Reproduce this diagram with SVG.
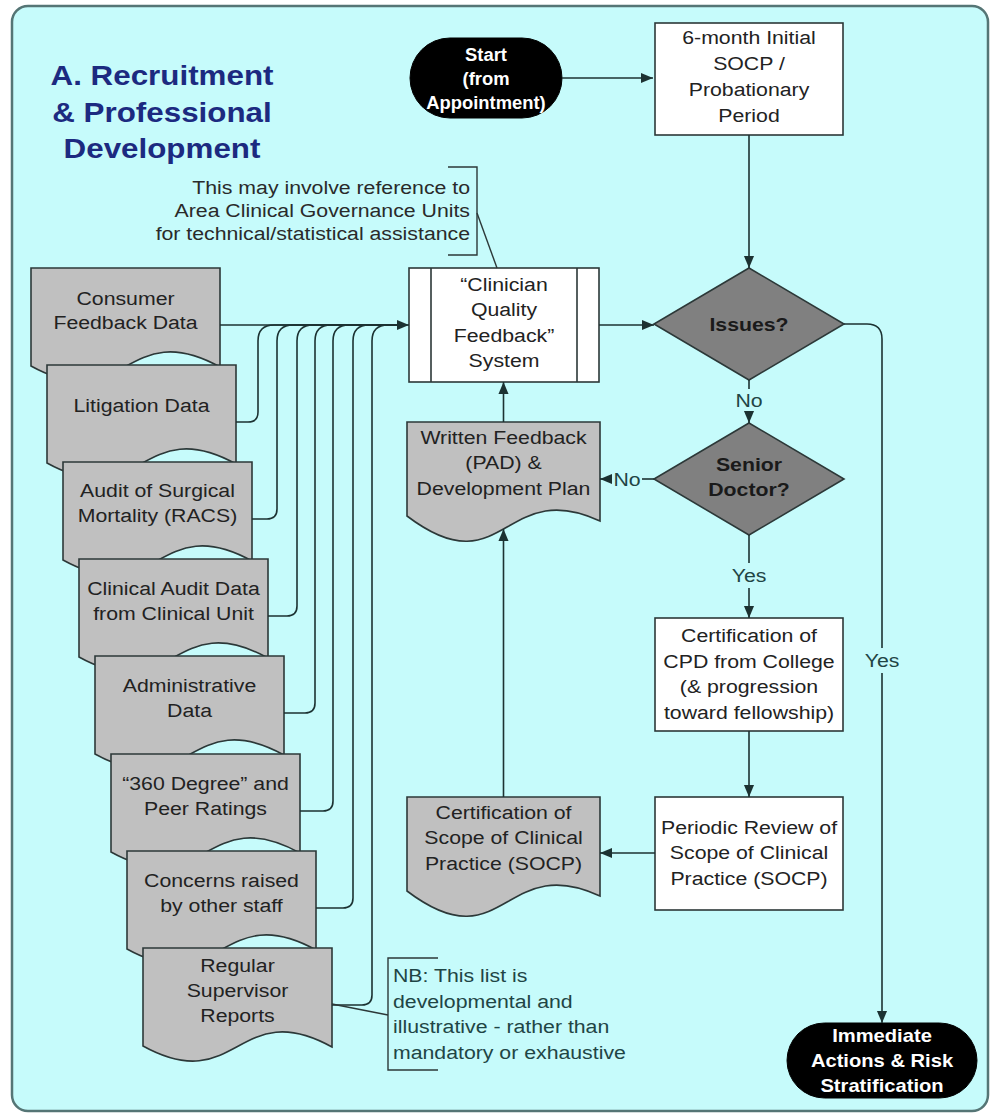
<svg xmlns="http://www.w3.org/2000/svg" width="992" height="1117" viewBox="0 0 992 1117">
<defs>
<style>
.t{font-family:"Liberation Sans",Arial,sans-serif;font-size:19px;fill:#222;text-anchor:middle}
.b{font-weight:bold;fill:#1a1a1a}
.w{font-family:"Liberation Sans",Arial,sans-serif;font-size:18px;font-weight:bold;fill:#fff;text-anchor:middle}
.title{font-family:"Liberation Sans",Arial,sans-serif;font-size:28px;font-weight:bold;fill:#1c2a80;text-anchor:middle}
.lbl{font-family:"Liberation Sans",Arial,sans-serif;font-size:19px;fill:#1f4545;text-anchor:middle}
.ann{font-family:"Liberation Sans",Arial,sans-serif;font-size:19px;fill:#2a2a2a}
.doc{fill:#c0c0c0;stroke:#2c3838;stroke-width:1.6}
.box{fill:#fff;stroke:#2c3838;stroke-width:1.6}
.dia{fill:#808080;stroke:#2c3838;stroke-width:1.6}
.pill{fill:#000;stroke:#000}
.c{fill:none;stroke:#1c3232;stroke-width:1.6}
.ca{fill:none;stroke:#1c3232;stroke-width:1.6;marker-end:url(#ah)}
.br{fill:none;stroke:#2c3838;stroke-width:1.4}
</style>
<marker id="ah" viewBox="0 0 10 10" refX="10" refY="5" markerWidth="12" markerHeight="12" markerUnits="userSpaceOnUse" orient="auto">
<path d="M0,0.8 L10,5 L0,9.2 Z" fill="#1c3232"/>
</marker>
</defs>
<rect x="0" y="0" width="992" height="1117" fill="#fff"/>
<rect id="panel" x="12" y="6" width="976" height="1105" rx="16" fill="#c6fbfb" stroke="#557575" stroke-width="2.5"/>

<g id="title">
<text class="title" transform="translate(162,85) scale(1.12,1)"><tspan x="0" y="0">A. Recruitment</tspan><tspan x="0" y="37">&amp; Professional</tspan><tspan x="0" y="73">Development</tspan></text>
</g>

<g id="note-acgu">
<path class="br" d="M448,167 H477 V255 H448"/>
<text class="ann" text-anchor="end" transform="translate(470,194) scale(1.12,1)"><tspan x="0" y="0">This may involve reference to</tspan><tspan x="0" y="23">Area Clinical Governance Units</tspan><tspan x="0" y="46">for technical/statistical assistance</tspan></text>
</g>

<g id="start">
<rect class="pill" x="410" y="38" width="152" height="80" rx="40"/>
<text class="w" style="font-size:17.5px" transform="translate(486,61) scale(1.05,1)"><tspan x="0" y="0">Start</tspan><tspan x="0" y="24">(from</tspan><tspan x="0" y="48">Appointment)</tspan></text>
</g>

<g id="probation">
<rect class="box" x="655" y="23" width="188" height="112"/>
<text class="t" transform="translate(749,44) scale(1.12,1)"><tspan x="0" y="0">6-month Initial</tspan><tspan x="0" y="26">SOCP /</tspan><tspan x="0" y="52">Probationary</tspan><tspan x="0" y="78">Period</tspan></text>
</g>

<g id="cqf">
<rect class="box" x="409" y="268" width="190" height="114"/>
<path class="br" d="M431,268 V382 M577,268 V382" style="stroke-width:1.6"/>
<text class="t" transform="translate(504,291) scale(1.12,1)"><tspan x="0" y="0">“Clinician</tspan><tspan x="0" y="25.5">Quality</tspan><tspan x="0" y="51">Feedback”</tspan><tspan x="0" y="76.5">System</tspan></text>
</g>

<g id="issues">
<path class="dia" d="M749,268 L844,324 L749,380 L654,324 Z"/>
<text class="t b" transform="translate(749,331) scale(1.12,1)">Issues?</text>
</g>

<g id="senior">
<path class="dia" d="M749,423 L844,479 L749,535 L654,479 Z"/>
<text class="t b" transform="translate(749,471) scale(1.12,1)"><tspan x="0" y="0">Senior</tspan><tspan x="0" y="25">Doctor?</tspan></text>
</g>

<g id="written">
<path class="doc" d="M407,422 H600 V521 C503.5,476 503.5,589 407,516 Z"/>
<text class="t" transform="translate(503.5,444) scale(1.12,1)"><tspan x="0" y="0">Written Feedback</tspan><tspan x="0" y="25.5">(PAD) &amp;</tspan><tspan x="0" y="51">Development Plan</tspan></text>
</g>

<g id="cpd">
<rect class="box" x="655" y="618" width="188" height="113"/>
<text class="t" transform="translate(749,642) scale(1.12,1)"><tspan x="0" y="0">Certification of</tspan><tspan x="0" y="25.7">CPD from College</tspan><tspan x="0" y="51.4">(&amp; progression</tspan><tspan x="0" y="77">toward fellowship)</tspan></text>
</g>

<g id="periodic">
<rect class="box" x="655" y="797" width="188" height="113"/>
<text class="t" transform="translate(749,834) scale(1.12,1)"><tspan x="0" y="0">Periodic Review of</tspan><tspan x="0" y="25.5">Scope of Clinical</tspan><tspan x="0" y="51">Practice (SOCP)</tspan></text>
</g>

<g id="cert-socp">
<path class="doc" d="M407,797 H600 V896 C503.5,851 503.5,964 407,891 Z"/>
<text class="t" transform="translate(503.5,819) scale(1.12,1)"><tspan x="0" y="0">Certification of</tspan><tspan x="0" y="25.5">Scope of Clinical</tspan><tspan x="0" y="51">Practice (SOCP)</tspan></text>
</g>

<g id="immediate">
<rect class="pill" x="787" y="1023" width="190" height="75" rx="37.5"/>
<text class="w" transform="translate(882,1042) scale(1.12,1)"><tspan x="0" y="0">Immediate</tspan><tspan x="0" y="25">Actions &amp; Risk</tspan><tspan x="0" y="50">Stratification</tspan></text>
</g>

<g id="doc-consumer">
<path class="doc" d="M31,268 H220 V367 C125.5,315 125.5,418 31,366 Z"/>
<text class="t" transform="translate(125.5,304.5) scale(1.12,1)"><tspan x="0" y="0">Consumer</tspan><tspan x="0" y="25">Feedback Data</tspan></text>
</g>
<g id="doc-litigation">
<path class="doc" d="M47,365 H236 V464 C141.5,412 141.5,515 47,463 Z"/>
<text class="t" transform="translate(141.5,412) scale(1.12,1)">Litigation Data</text>
</g>
<g id="doc-racs">
<path class="doc" d="M63,462 H252 V561 C157.5,509 157.5,612 63,560 Z"/>
<text class="t" transform="translate(157.5,497) scale(1.12,1)"><tspan x="0" y="0">Audit of Surgical</tspan><tspan x="0" y="25">Mortality (RACS)</tspan></text>
</g>
<g id="doc-clinical-audit">
<path class="doc" d="M79,559 H268 V658 C173.5,606 173.5,709 79,657 Z"/>
<text class="t" transform="translate(173.5,595) scale(1.12,1)"><tspan x="0" y="0">Clinical Audit Data</tspan><tspan x="0" y="25">from Clinical Unit</tspan></text>
</g>
<g id="doc-admin">
<path class="doc" d="M95,656 H284 V755 C189.5,703 189.5,806 95,754 Z"/>
<text class="t" transform="translate(189.5,692) scale(1.12,1)"><tspan x="0" y="0">Administrative</tspan><tspan x="0" y="25">Data</tspan></text>
</g>
<g id="doc-360">
<path class="doc" d="M111,754 H300 V853 C205.5,801 205.5,904 111,852 Z"/>
<text class="t" transform="translate(205.5,790) scale(1.12,1)"><tspan x="0" y="0">“360 Degree” and</tspan><tspan x="0" y="25">Peer Ratings</tspan></text>
</g>
<g id="doc-concerns">
<path class="doc" d="M127,851 H316 V950 C221.5,898 221.5,1001 127,949 Z"/>
<text class="t" transform="translate(221.5,887) scale(1.12,1)"><tspan x="0" y="0">Concerns raised</tspan><tspan x="0" y="25">by other staff</tspan></text>
</g>
<g id="doc-supervisor">
<path class="doc" d="M143,948 H332 V1047 C237.5,995 237.5,1098 143,1046 Z"/>
<text class="t" transform="translate(237.5,972) scale(1.12,1)"><tspan x="0" y="0">Regular</tspan><tspan x="0" y="25">Supervisor</tspan><tspan x="0" y="50">Reports</tspan></text>
</g>

<g id="note-nb">
<path class="br" d="M438,958 H388 V1070 H438"/>
<text class="lbl" style="text-anchor:start" transform="translate(393,982) scale(1.12,1)"><tspan x="0" y="0">NB: This list is</tspan><tspan x="0" y="25.7">developmental and</tspan><tspan x="0" y="51.4">illustrative - rather than</tspan><tspan x="0" y="77">mandatory or exhaustive</tspan></text>
</g>

<g id="connectors">
<path class="ca" d="M562,78 H653"/>
<path class="ca" d="M749,135 V268"/>
<path class="ca" d="M599,325 H654"/>
<path class="c" d="M749,380 V389"/>
<path class="ca" d="M749,412 V423"/>
<path class="c" d="M749,535 V563"/>
<path class="ca" d="M749,588 V618"/>
<path class="ca" d="M749,731 V797"/>
<path class="ca" d="M655,853 H600"/>
<path class="ca" d="M503.5,797 V529"/>
<path class="ca" d="M503.5,422 V382"/>
<path class="c" d="M654,479 H642"/>
<path class="ca" d="M612,479 H600"/>
<path class="c" d="M844,324 H867 Q882,324 882,339 V648"/>
<path class="ca" d="M882,673 V1023"/>
<path class="ca" d="M220,325 H409"/>
<path class="c" d="M236,422 H248 Q258,422 258,412 V341 Q258,325 274,325 H400"/>
<path class="c" d="M252,519 H267 Q277,519 277,509 V341 Q277,325 293,325 H400"/>
<path class="c" d="M268,616 H287 Q297,616 297,606 V341 Q297,325 313,325 H400"/>
<path class="c" d="M284,713 H305 Q315,713 315,703 V341 Q315,325 331,325 H400"/>
<path class="c" d="M300,811 H323 Q333,811 333,801 V341 Q333,325 349,325 H400"/>
<path class="c" d="M316,908 H343 Q353,908 353,898 V341 Q353,325 369,325 H400"/>
<path class="c" d="M332,1005 H362 Q372,1005 372,995 V341 Q372,325 388,325 H400"/>
<path class="br" d="M477,213 L497,268"/>
<path class="br" d="M332,1004 L388,1015"/>
<text class="lbl" transform="translate(749,407) scale(1.12,1)">No</text>
<text class="lbl" transform="translate(749,582) scale(1.12,1)">Yes</text>
<text class="lbl" transform="translate(882,667) scale(1.12,1)">Yes</text>
<text class="lbl" transform="translate(627,486) scale(1.12,1)">No</text>
</g>
</svg>
